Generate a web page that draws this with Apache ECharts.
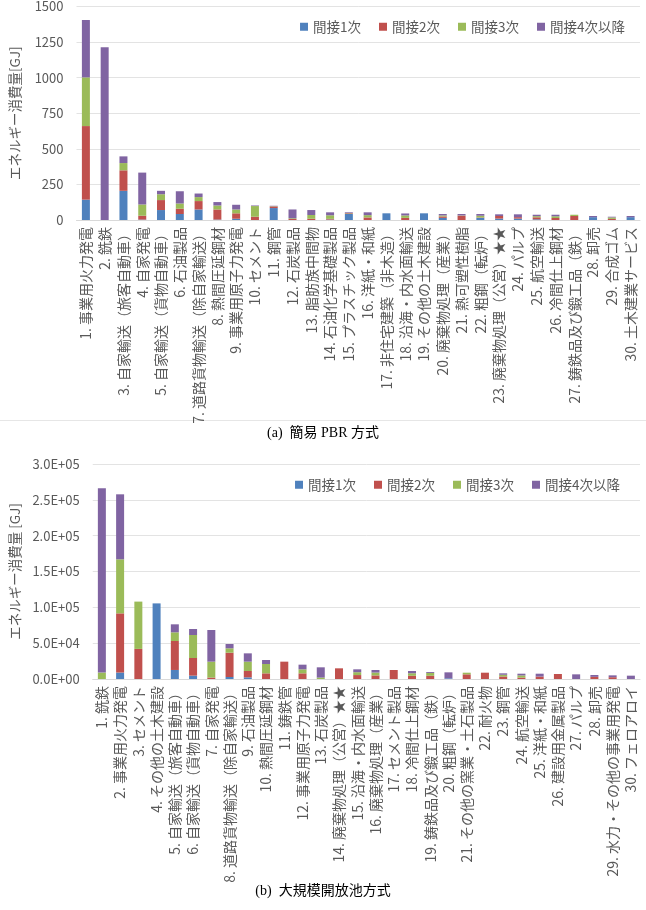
<!DOCTYPE html>
<html>
<head>
<meta charset="utf-8">
<title>エネルギー消費量</title>
<script src="https://cdn.jsdelivr.net/npm/echarts@6.0.0/dist/echarts.min.js"></script>
<style>
  html, body { margin: 0; padding: 0; background: #fff; }
  #chart { width: 646px; height: 910px; }
</style>
</head>
<body>
<div id="chart"></div>
<script>
// (a) 簡易PBR方式
var catsA = ['1. 事業用火力発電', '2. 銑鉄', '3. 自家輸送（旅客自動車）', '4. 自家発電', '5. 自家輸送（貨物自動車）',
  '6. 石油製品', '7. 道路貨物輸送（除自家輸送）', '8. 熱間圧延鋼材', '9. 事業用原子力発電', '10. セメント',
  '11. 鋼管', '12. 石炭製品', '13. 脂肪族中間物', '14. 石油化学基礎製品', '15. プラスチック製品',
  '16. 洋紙・和紙', '17. 非住宅建築（非木造）', '18. 沿海・内水面輸送', '19. その他の土木建設', '20. 廃棄物処理（産業）',
  '21. 熱可塑性樹脂', '22. 粗鋼（転炉）', '23. 廃棄物処理（公営）★★', '24. パルプ', '25. 航空輸送',
  '26. 冷間仕上鋼材', '27. 鋳鉄品及び鍛工品（鉄）', '28. 卸売', '29. 合成ゴム', '30. 土木建業サービス'];
var a1 = [143, 0, 205, 3, 70, 42, 74, 3, 9, 0, 84, 0, 0, 3, 42, 0, 47, 0, 47, 15, 0, 15, 10, 10, 5, 0, 0, 20, 0, 20];
var a2 = [517, 0, 144, 27, 70, 37, 59, 71, 38, 23, 11, 7, 9, 5, 5, 18, 0, 15, 0, 10, 30, 3, 18, 10, 14, 14, 28, 0, 8, 0];
var a3 = [342, 0, 51, 79, 41, 37, 28, 28, 27, 75, 2, 5, 26, 25, 2, 16, 0, 17, 0, 7, 2, 12, 0, 0, 8, 12, 9, 0, 10, 0];
var a4 = [403, 1213, 47, 224, 24, 86, 25, 24, 33, 4, 3, 62, 35, 21, 5, 20, 0, 14, 0, 10, 10, 12, 12, 20, 10, 11, 0, 8, 5, 8];

// (b) 大規模開放池方式
var catsB = ['1. 銑鉄', '2. 事業用火力発電', '3. セメント', '4. その他の土木建設', '5. 自家輸送（旅客自動車）',
  '6. 自家輸送（貨物自動車）', '7. 自家発電', '8. 道路貨物輸送（除自家輸送）', '9. 石油製品', '10. 熱間圧延鋼材',
  '11. 鋳鉄管', '12. 事業用原子力発電', '13. 石炭製品', '14. 廃棄物処理（公営）★★', '15. 沿海・内水面輸送',
  '16. 廃棄物処理（産業）', '17. セメント製品', '18. 冷間仕上鋼材', '19. 鋳鉄品及び鍛工品（鉄）', '20. 粗鋼（転炉）',
  '21. その他の窯業・土石製品', '22. 耐火物', '23. 鋼管', '24. 航空輸送', '25. 洋紙・和紙',
  '26. 建設用金属製品', '27. パルプ', '28. 卸売', '29. 水力・その他の事業用発電', '30. フェロアロイ'];
var b1 = [0, 9000, 0, 105500, 12600, 4700, 0, 2800, 2300, 0, 0, 0, 0, 0, 0, 0, 0, 0, 0, 1000, 0, 0, 0, 0, 0, 0, 0, 0, 0, 0];
var b2 = [0, 82600, 42000, 0, 40400, 24600, 2000, 33900, 8900, 7900, 24200, 7900, 0, 14900, 5500, 5000, 12600, 4500, 4500, 0, 6500, 8800, 3500, 2000, 3400, 7000, 0, 3000, 2500, 0];
var b3 = [9000, 75400, 66000, 0, 12100, 32100, 22200, 6100, 13000, 13000, 0, 5600, 2000, 0, 4000, 4000, 0, 3500, 4000, 0, 2300, 0, 2400, 3000, 0, 0, 0, 0, 0, 0];
var b4 = [257000, 90700, 0, 0, 11200, 8400, 44200, 6000, 11600, 5600, 0, 6500, 14300, 0, 4000, 3600, 0, 3200, 1300, 8300, 0, 0, 2000, 2400, 4000, 0, 6500, 2600, 2600, 4650];

var names = ['間接1次', '間接2次', '間接3次', '間接4次以降'];
var colors = ['#4F81BD', '#C0504D', '#9BBB59', '#8064A2'];

var font = "'Noto Sans CJK JP', sans-serif";
var serif = "'Liberation Serif', 'Noto Sans CJK JP', serif";
var txt = '#595959';

function plainFmt(v) { return String(v); }

function expFmt(v) {
  var s = Number(v).toExponential(1).toUpperCase();
  var parts = s.split('E');
  var e = parseInt(parts[1], 10);
  var sign = e < 0 ? '-' : '+';
  e = Math.abs(e);
  return parts[0] + 'E' + sign + (e < 10 ? '0' + e : e);
}

function xAx(idx, cats) {
  return {
    type: 'category', gridIndex: idx, data: cats,
    axisLine: { lineStyle: { color: '#D9D9D9' } },
    axisTick: { show: false },
    axisLabel: { interval: 0, rotate: 90, margin: 7, color: txt, fontSize: 14, fontFamily: font }
  };
}

function yAx(idx, max, step, name, gap, fmt) {
  return {
    type: 'value', gridIndex: idx, min: 0, max: max, interval: step,
    name: name, nameLocation: 'middle', nameGap: gap,
    nameTextStyle: { color: txt, fontSize: 13.5, fontFamily: font },
    axisLine: { show: false }, axisTick: { show: false },
    axisLabel: { color: txt, fontSize: 13, fontFamily: font, margin: 13, formatter: fmt },
    splitLine: { lineStyle: { color: '#E3E3E3' } }
  };
}

var allSeries = [];
[a1, a2, a3, a4].forEach(function (d, i) {
  allSeries.push({ name: names[i], type: 'bar', stack: 'a', xAxisIndex: 0, yAxisIndex: 0,
    barWidth: 8, itemStyle: { color: colors[i] }, data: d });
});
[b1, b2, b3, b4].forEach(function (d, i) {
  allSeries.push({ name: names[i], type: 'bar', stack: 'b', xAxisIndex: 1, yAxisIndex: 1,
    barWidth: 8, itemStyle: { color: colors[i] }, data: d });
});

var legendBase = {
  data: names, icon: 'rect', itemWidth: 8, itemHeight: 8, itemGap: 18,
  textStyle: { color: txt, fontSize: 13.5, fontFamily: font }
};

var chart = echarts.init(document.getElementById('chart'));
chart.setOption({
  animation: false,
  color: colors,
  grid: [
    { left: 70.5, right: 6, top: 5, height: 215 },
    { left: 84.7, right: 6, top: 464, height: 215 }
  ],
  legend: [
    Object.assign({ right: 16, top: 15 }, legendBase),
    Object.assign({ right: 21, top: 473 }, legendBase)
  ],
  xAxis: [xAx(0, catsA), xAx(1, catsB)],
  yAxis: [
    yAx(0, 1500, 250, 'エネルギー消費量[GJ]', 55, plainFmt),
    yAx(1, 300000, 50000, 'エネルギー消費量 [GJ]', 69, expFmt)
  ],
  series: allSeries,
  graphic: [
    { type: 'rect', left: 0, top: 420, shape: { width: 646, height: 1 }, style: { fill: '#E6E6E6' } },
    { type: 'text', left: 'center', top: 426, style: { text: '(a)  簡易 PBR 方式', fill: '#000', font: '14px ' + serif } },
    { type: 'text', left: 'center', top: 884, style: { text: '(b)  大規模開放池方式', fill: '#000', font: '14px ' + serif } }
  ]
});
</script>
</body>
</html>
